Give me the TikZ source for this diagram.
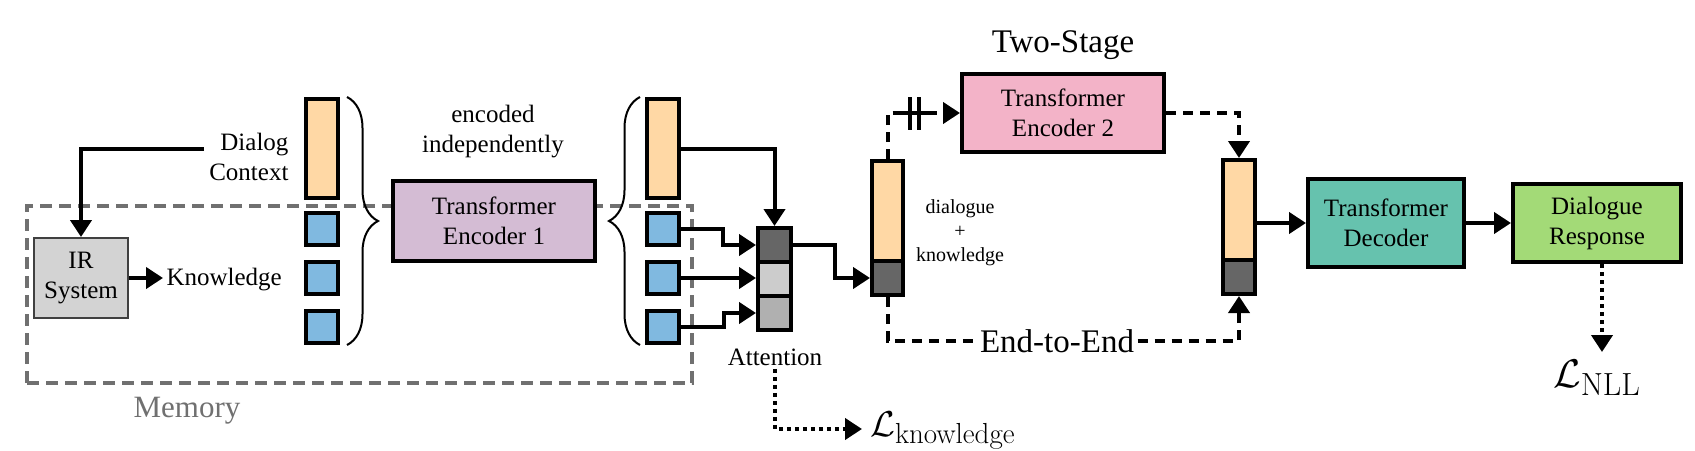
\RequirePackage{fix-cm}
\documentclass[tikz,border=0pt]{standalone}
\usepackage[no-math]{fontspec}
\setmainfont{Liberation Serif}
\usetikzlibrary{arrows.meta,decorations.pathreplacing,calc}
\DeclareMathSizes{36}{36}{29}{22}
\DeclareMathSizes{40}{40}{32}{24}
\definecolor{orng}{HTML}{FFD8A5}
\definecolor{blu}{HTML}{80B9E0}
\definecolor{purp}{HTML}{D4BCD4}
\definecolor{pnk}{HTML}{F3B3C8}
\definecolor{tealb}{HTML}{66C2AE}
\definecolor{grn}{HTML}{A3DA77}
\definecolor{irgray}{HTML}{D3D3D3}
\definecolor{memgray}{HTML}{707070}
\begin{document}
\begin{tikzpicture}[x=1pt,y=-1pt,
  txt/.style={font=\fontsize{25}{30}\selectfont, align=center},
  box/.style={draw, line width=4pt, txt, inner sep=0pt},
  vec/.style={draw, line width=4pt, inner sep=0pt},
  conn/.style={line width=4pt},
  arr/.style={conn, -{Triangle[length=17pt,width=21pt]}},
  dsh/.style={conn, dash pattern=on 10pt off 7pt},
  dsharr/.style={dsh, -{Triangle[length=17pt,width=21pt]}},
  dotarr/.style={conn, dash pattern=on 4pt off 4pt, -{Triangle[length=17pt,width=21pt]}},
  brc/.style={line width=2pt, decorate, decoration={brace, amplitude=31pt}},
]
\useasboundingbox (0,0) rectangle (1695,450);

% memory region
\node[draw=memgray, line width=4pt, dash pattern=on 12pt off 7pt, minimum width=665pt, minimum height=177pt, inner sep=0pt] (mem) at (359.5,294.5) {};
\node[txt, text=memgray, font=\fontsize{31}{36}\selectfont, anchor=base] (memlbl) at (187,417) {Memory};

% left part
\node[draw=black!75, line width=2pt, fill=irgray, txt, minimum width=94pt, minimum height=80pt, inner sep=0pt] (ir) at (81,278) {IR\\System};
\node[txt, anchor=east, align=right] (dc) at (292,157) {Dialog\\Context};
\coordinate (dcl) at (204,149);
\node[txt, anchor=west] (kn) at (163,280) {Knowledge};

\node[vec, fill=orng, minimum width=32pt, minimum height=99pt] (c1) at (322,148.5) {};
\node[vec, fill=blu, minimum size=32pt] (b11) at (322,229) {};
\node[vec, fill=blu, minimum size=32pt] (b12) at (322,278) {};
\node[vec, fill=blu, minimum size=32pt] (b13) at (322,327) {};
\draw[brc] (347,97) -- (347,345);

\node[box, fill=purp, minimum width=202pt, minimum height=80pt] (e1) at (494,221) {Transformer\\Encoder 1};
\node[txt] (encind) at (493,132) {encoded\\independently};

\draw[brc] (640,345) -- (640,97);
\node[vec, fill=orng, minimum width=32pt, minimum height=99pt] (c2) at (662.5,148.5) {};
\node[vec, fill=blu, minimum size=32pt] (b21) at (662.5,229) {};
\node[vec, fill=blu, minimum size=32pt] (b22) at (662.5,278) {};
\node[vec, fill=blu, minimum size=32pt] (b23) at (662.5,327) {};

% attention
\node[vec, fill=black!60, minimum width=33pt, minimum height=34pt] (a1) at (774.5,245) {};
\node[vec, fill=black!20, minimum width=33pt, minimum height=34pt] (a2) at (774.5,279) {};
\node[vec, fill=black!31, minimum width=33pt, minimum height=34pt] (a3) at (774.5,313) {};
\node[txt] (attl) at (775,357) {Attention};
\node[font=\fontsize{36}{42}\selectfont, anchor=base west, inner sep=8pt] (lk) at (862,436) {$\mathcal{L}_{\mathrm{knowledge}}$};

% dialogue + knowledge vector
\node[vec, fill=orng, minimum width=31pt, minimum height=100pt] (k1o) at (887.5,211) {};
\node[vec, fill=black!60, minimum width=31pt, minimum height=34pt] (k1d) at (887.5,278) {};
\node[font=\fontsize{20}{24}\selectfont, align=center] (dk) at (960,233) {dialogue\\+\\knowledge};

% two-stage
\node[font=\fontsize{33}{40}\selectfont, anchor=base] (ts) at (1063,52) {Two-Stage};
\node[box, fill=pnk, minimum width=202pt, minimum height=78pt] (e2) at (1063,113) {Transformer\\Encoder 2};
\node[font=\fontsize{33}{40}\selectfont, anchor=base] (e2e) at (1057,352) {End-to-End};

% right vector
\node[vec, fill=orng, minimum width=32pt, minimum height=100pt] (k2o) at (1239,210) {};
\node[vec, fill=black!60, minimum width=32pt, minimum height=34pt] (k2d) at (1239,277) {};

\node[box, fill=tealb, minimum width=156pt, minimum height=88pt] (dec) at (1386,223) {Transformer\\Decoder};
\node[box, fill=grn, minimum width=168pt, minimum height=78pt] (resp) at (1597,223) {Dialogue\\Response};
\node[font=\fontsize{40}{48}\selectfont, anchor=base west, inner sep=0pt] (ln) at (1553,387) {$\mathcal{L}_{\mathrm{NLL}}$};

% connectors
\draw[arr] (dcl) -| (ir.north);
\draw[arr] (ir.east) -- (ir.east -| kn.west);
\draw[arr] (c2.east) -| (a1.north);
\draw[arr] (b21.east) -- ++(42,0) |- (a1.west);
\draw[arr] (b22.east) -- (b22.east -| a2.west);
\draw[arr] (b23.east) -- ++(43,0) |- (a3.west);
\draw[arr] (a1.east) -- ++(42,0) |- (k1d.west);
\draw[dotarr] (attl.south) -- (attl.south |- 0,429) -- (lk.west |- 0,429);

\draw[dsharr] (k1o.north) |- (e2.west);
\draw[conn] (903,113) -- (930,113);
\draw[conn] (910,97) -- (910,130);
\draw[conn] (919,97) -- (919,130);
\draw[dsharr] (e2.east) -| (k2o.north);
\draw[dsh] (k1d.south) |- (e2e.west);
\draw[dsharr] (e2e.east) -| (k2d.south);

\draw[arr] (k2o.east |- dec.west) -- (dec.west);
\draw[arr] (dec.east) -- (resp.west);
\draw[dotarr] ([xshift=5pt]resp.south) -- ++(0,88);
\end{tikzpicture}
\end{document}
